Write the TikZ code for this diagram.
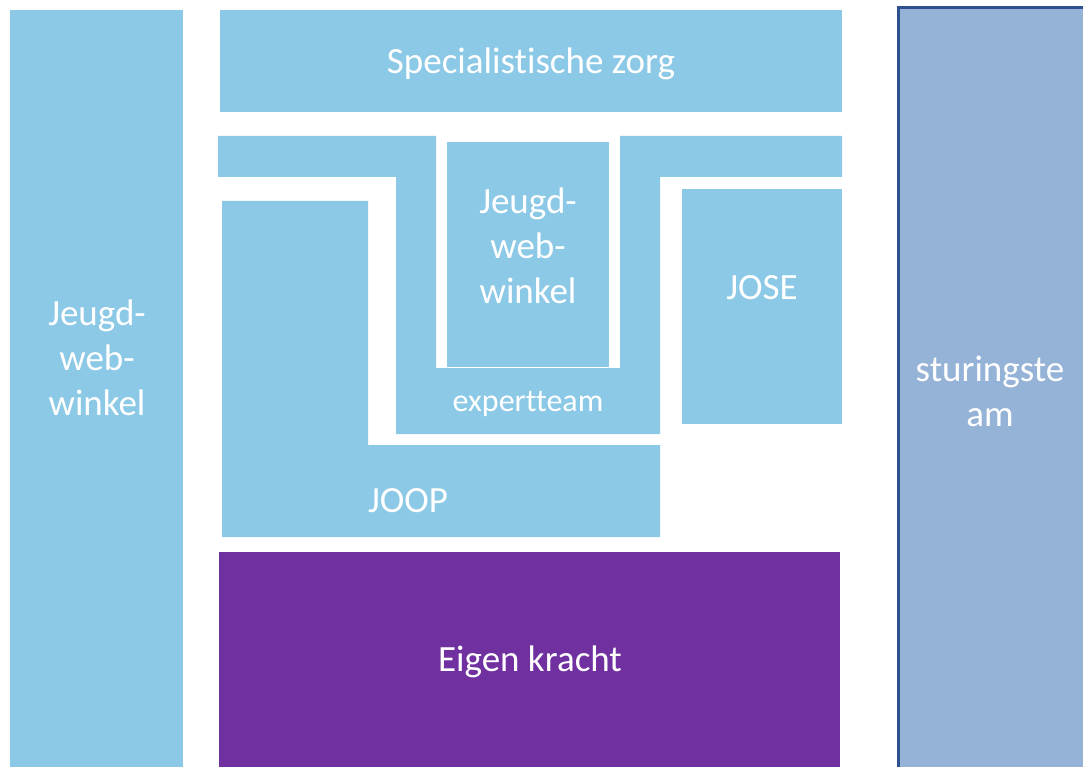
\documentclass[tikz,border=0pt]{standalone}
\usepackage{fontspec}
\setmainfont{Carlito}[Ligatures=NoCommon]
\usetikzlibrary{positioning, calc}
\definecolor{zorgblue}{RGB}{140, 201, 230}
\definecolor{krachtpurple}{RGB}{112, 48, 160}
\definecolor{teamblue}{RGB}{149, 179, 215}
\definecolor{teamborder}{RGB}{47, 82, 143}

\begin{document}
\begin{tikzpicture}[
    x=1pt, y=-1pt,
    block/.style={fill=zorgblue, inner sep=0pt, anchor=north west},
    kracht/.style={fill=krachtpurple, inner sep=0pt, anchor=north west},
    team/.style={draw=teamborder, line width=3pt, fill=teamblue, inner sep=0pt, anchor=north west},
    bigtext/.style={text=white, font=\fontsize{37}{45}\selectfont, align=center},
    smalltext/.style={text=white, font=\fontsize{32}{40}\selectfont, align=center}
]
\useasboundingbox (0,0) rectangle (1083,767);

% Outer columns
\node[block, minimum width=173pt, minimum height=757pt] (wwleft) at (10,10) {};
\node[team, minimum width=190pt, minimum height=770pt] (sturing) at (897,6) {};

% Top and bottom layers
\node[block, minimum width=622pt, minimum height=102pt] (spec) at (220,10) {};
\node[kracht, minimum width=621pt, minimum height=215pt] (eigen) at (219,552) {};

% Expertteam (U shape)
\fill[zorgblue] (218,136) -- (436,136) -- (436,368) -- (620,368) -- (620,136)
    -- (842,136) -- (842,177) -- (660,177) -- (660,434) -- (396,434)
    -- (396,177) -- (218,177) -- cycle;

% JOOP (L shape)
\fill[zorgblue] (222,201) -- (368,201) -- (368,445) -- (660,445)
    -- (660,537) -- (222,537) -- cycle;

% Inner boxes
\node[block, minimum width=162pt, minimum height=225pt] (wwinner) at (447,142) {};
\node[block, minimum width=160pt, minimum height=235pt] (jose) at (682,189) {};

% Labels
\node[bigtext] (wwlefttext) at (97,358) {Jeugd-\\web-\\winkel};
\node[bigtext] (sturingtext) at (990,391) {sturingste\\am};
\node[bigtext] (spectext) at (531,64) {Specialistische zorg};
\node[bigtext] (wwinnertext) at (528,246) {Jeugd-\\web-\\winkel};
\node[bigtext] (josetext) at (762,288) {JOSE};
\node[smalltext] (experttext) at (528,404) {expertteam};
\node[bigtext] (jooptext) at (408,501) {JOOP};
\node[bigtext] (eigentext) at (530,662) {Eigen kracht};

\end{tikzpicture}
\end{document}
